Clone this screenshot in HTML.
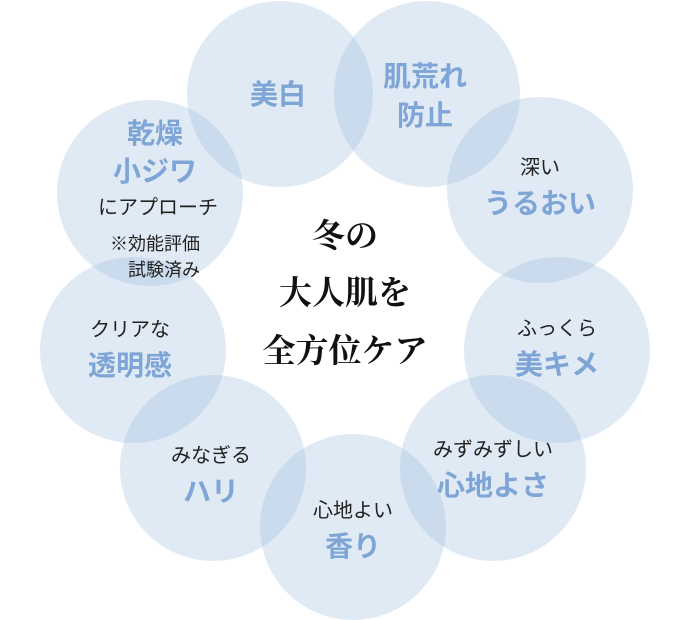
<!DOCTYPE html><html><head><meta charset="utf-8"><style>
body{margin:0;background:#fff}
svg{display:block}
.b{font-family:"Liberation Sans","Noto Sans CJK JP",sans-serif;font-weight:bold;font-size:28px;fill:#7ea5d6;text-anchor:middle}
.k{font-family:"Liberation Sans","Noto Sans CJK JP",sans-serif;font-size:20px;fill:#222;text-anchor:middle}
.s{font-family:"Liberation Sans","Noto Sans CJK JP",sans-serif;font-size:18px;fill:#222;text-anchor:middle}
.c{font-family:"Noto Serif CJK SC","Liberation Serif",serif;font-weight:bold;font-size:33px;fill:#111;text-anchor:middle}
</style></head><body>
<svg width="690" height="620" viewBox="0 0 690 620">
<g fill="rgb(142,178,215)" fill-opacity="0.28">
<circle cx="280" cy="94" r="93"/><circle cx="427" cy="94" r="93"/>
<circle cx="540" cy="190" r="93"/><circle cx="557" cy="350" r="93"/>
<circle cx="493" cy="468" r="93"/><circle cx="353" cy="527" r="93"/>
<circle cx="213" cy="468" r="93"/><circle cx="133" cy="350" r="93"/>
<circle cx="150" cy="193" r="93"/>
</g>
<text class="b" x="278" y="104">美白</text>
<text class="b" x="425" y="86">肌荒れ</text><text class="b" x="425" y="125">防止</text>
<text class="k" x="540" y="174">深い</text><text class="b" x="540" y="213">うるおい</text>
<text class="k" x="557" y="335">ふっくら</text><text class="b" x="557" y="374">美キメ</text>
<text class="k" x="493" y="456">みずみずしい</text><text class="b" x="493" y="495">心地よさ</text>
<text class="k" x="353" y="517">心地よい</text><text class="b" x="353" y="556">香り</text>
<text class="k" x="211" y="462">みなぎる</text><text class="b" x="211" y="501">ハリ</text>
<text class="k" x="130" y="336">クリアな</text><text class="b" x="130" y="375">透明感</text>
<text class="b" x="155" y="143">乾燥</text><text class="b" x="155" y="181">小ジワ</text>
<text class="k" x="158" y="214">にアプローチ</text>
<text class="s" x="155" y="250">※効能評価</text><text class="s" x="164" y="276">試験済み</text>
<text class="c" x="345" y="247">冬の</text><text class="c" x="345" y="304">大人肌を</text><text class="c" x="345" y="362">全方位ケア</text>
</svg></body></html>
